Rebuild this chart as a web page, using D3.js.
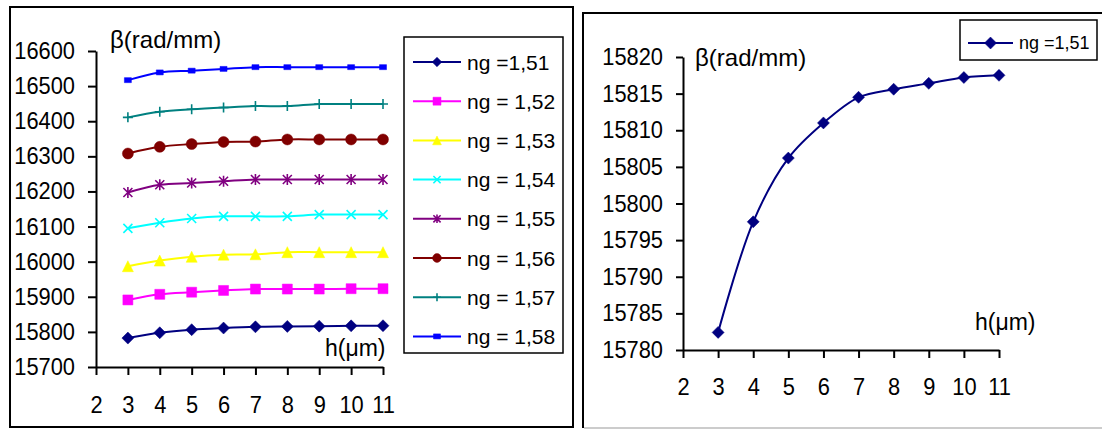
<!DOCTYPE html>
<html>
<head>
<meta charset="utf-8">
<script src="https://cdn.jsdelivr.net/npm/d3@7"></script>
<style>
  body { margin: 0; background: #fff; }
  text { font-family: "Liberation Sans", Arial, sans-serif; fill: #000; }
  .axis path, .axis line { stroke: #000; stroke-width: 2px; }
  .axis text { font-size: 23.5px; }
</style>
</head>
<body>
<div class="chart"></div>
<script>
var hValues = [3, 4, 5, 6, 7, 8, 9, 10, 11];
var xTicks = [2, 3, 4, 5, 6, 7, 8, 9, 10, 11];
var leftYTicks = [15700, 15800, 15900, 16000, 16100, 16200, 16300, 16400, 16500, 16600];
var rightYTicks = [15780, 15785, 15790, 15795, 15800, 15805, 15810, 15815, 15820];

var seriesNames = ["ng =1,51", "ng = 1,52", "ng = 1,53", "ng = 1,54", "ng = 1,55", "ng = 1,56", "ng = 1,57", "ng = 1,58"];
var ng151 = [15782.4, 15797.5, 15806.2, 15811.0, 15814.5, 15815.6, 15816.4, 15817.2, 15817.5];
var ng152 = [15891, 15907, 15913, 15918, 15922, 15922, 15922, 15923, 15923];
var ng153 = [15987, 16003, 16014, 16020, 16021, 16027, 16027, 16027, 16027];
var ng154 = [16095, 16111, 16123, 16129, 16129, 16129, 16134, 16134, 16134];
var ng155 = [16197, 16219, 16224, 16229, 16234, 16234, 16234, 16234, 16234];
var ng156 = [16308, 16327, 16335, 16341, 16342, 16348, 16348, 16348, 16348];
var ng157 = [16411, 16427, 16434, 16439, 16443, 16443, 16449, 16449, 16449];
var ng158 = [16517, 16539, 16544, 16549, 16554, 16554, 16554, 16554, 16554];

var colors = ["#000080", "#ff00ff", "#ffff00", "#00ffff", "#800080", "#800000", "#008080", "#0000ff"];
var markers = ["diamond", "square", "triangle", "x", "star", "circle", "plus", "dash"];

var allSeries = [ng151, ng152, ng153, ng154, ng155, ng156, ng157, ng158].map(function (vals, i) {
  return {
    name: seriesNames[i],
    color: colors[i],
    marker: markers[i],
    values: vals.map(function (v, j) { return {h: hValues[j], beta: v}; })
  };
});

var svg = d3.select(".chart").append("svg")
    .attr("width", 1102)
    .attr("height", 429);

svg.append("rect").attr("width", 1102).attr("height", 429).attr("fill", "#fff");

// panel frames
svg.append("rect")
    .attr("x", 10).attr("y", 7).attr("width", 563).attr("height", 420)
    .attr("fill", "none").attr("stroke", "#000").attr("stroke-width", 2);
svg.append("path")
    .attr("d", "M1102,13H583V428")
    .attr("fill", "none").attr("stroke", "#000").attr("stroke-width", 2);
svg.append("line")
    .attr("x1", 584).attr("x2", 1102).attr("y1", 428).attr("y2", 428)
    .attr("stroke", "#bbb").attr("stroke-width", 1.5);

function markerPath(type, s) {
  switch (type) {
    case "diamond": return "M0," + (-s) + "L" + s + ",0L0," + s + "L" + (-s) + ",0Z";
    case "square": return "M" + (-s) + "," + (-s) + "h" + 2 * s + "v" + 2 * s + "h" + (-2 * s) + "Z";
    case "triangle": return "M0," + (-s) + "L" + s + "," + s + "L" + (-s) + "," + s + "Z";
    case "circle": return d3.symbol(d3.symbolCircle, Math.PI * s * s)();
    case "dash": return "M-3.5,-2.5h7v5h-7Z";
    case "x": return "M" + (-s) + "," + (-s) + "L" + s + "," + s + "M" + (-s) + "," + s + "L" + s + "," + (-s);
    case "star": return "M" + (-s) + "," + (-s) + "L" + s + "," + s + "M" + (-s) + "," + s + "L" + s + "," + (-s) + "M0," + (-s * 1.2) + "V" + (s * 1.2);
    case "plus": return "M" + (-s) + ",0H" + s + "M0," + (-s) + "V" + s;
  }
}
var markerSize = {diamond: 6, square: 5, triangle: 5.5, x: 4.5, star: 4.5, circle: 5.5, plus: 5, dash: 3};
var filled = {diamond: true, square: true, triangle: true, circle: true, dash: true};

function drawMarkers(g, pts, s, x, y, scale) {
  g.selectAll(".pt").data(pts).enter().append("path")
    .attr("class", "pt")
    .attr("transform", function (d) { return "translate(" + x(d.h) + "," + y(d.beta) + ")"; })
    .attr("d", markerPath(s.marker, markerSize[s.marker] * scale))
    .attr("fill", filled[s.marker] ? s.color : "none")
    .attr("stroke", s.color)
    .attr("stroke-width", filled[s.marker] ? 0.5 : 1.6);
}

function legendItem(g, s, lx, ly, len, fontSize, scale) {
  g.append("line").attr("x1", lx).attr("x2", lx + len).attr("y1", ly).attr("y2", ly)
    .attr("stroke", s.color).attr("stroke-width", 2);
  g.append("path")
    .attr("transform", "translate(" + (lx + len / 2) + "," + ly + ")")
    .attr("d", markerPath(s.marker, markerSize[s.marker] * scale))
    .attr("fill", filled[s.marker] ? s.color : "none")
    .attr("stroke", s.color)
    .attr("stroke-width", filled[s.marker] ? 0.5 : 1.6);
  g.append("text").attr("x", lx + len + 6).attr("y", ly).attr("dy", "0.36em")
    .style("font-size", fontSize + "px").text(s.name);
}

// tick labels in the picture are a little narrower than the font
var squeeze = 0.93;
function narrowTicks(g) {
  g.selectAll("text").each(function () {
    var t = d3.select(this);
    var x = +t.attr("x") || 0;
    t.attr("x", x / squeeze).attr("transform", "scale(" + squeeze + ",1)");
  });
}

// ---------- left chart ----------
var x1 = d3.scaleLinear().domain([2, 11]).range([96, 383]);
var y1 = d3.scaleLinear().domain([15700, 16600]).range([367, 51]);

svg.append("g").attr("class", "axis")
    .attr("transform", "translate(0,367)")
    .call(d3.axisBottom(x1).tickValues(xTicks).tickSize(8).tickPadding(21).tickSizeOuter(0))
    .call(narrowTicks);
svg.append("g").attr("class", "axis")
    .attr("transform", "translate(96,0)")
    .call(d3.axisLeft(y1).tickValues(leftYTicks).tickFormat(d3.format("d")).tickSize(8).tickPadding(13).tickSizeOuter(0))
    .call(narrowTicks);

var line1 = d3.line().curve(d3.curveCatmullRom)
    .x(function (d) { return x1(d.h); })
    .y(function (d) { return y1(d.beta); });

allSeries.forEach(function (s) {
  var g = svg.append("g");
  g.append("path").datum(s.values)
    .attr("fill", "none").attr("stroke", s.color).attr("stroke-width", 2)
    .attr("d", line1);
  drawMarkers(g, s.values, s, x1, y1, 1);
});

svg.append("text").attr("x", 110).attr("y", 48).style("font-size", "24px").text("β(rad/mm)");
svg.append("text").attr("x", 325).attr("y", 356).style("font-size", "23px").text("h(μm)");

var leg1 = svg.append("g");
leg1.append("rect").attr("x", 404).attr("y", 37).attr("width", 159).attr("height", 316)
    .attr("fill", "#fff").attr("stroke", "#000").attr("stroke-width", 1.5);
allSeries.forEach(function (s, i) {
  legendItem(leg1, s, 413, 62 + i * 39.2, 48, 21, 0.8);
});

// ---------- right chart ----------
var x2 = d3.scaleLinear().domain([2, 11]).range([683, 999]);
var y2 = d3.scaleLinear().domain([15780, 15820]).range([350, 57]);

svg.append("g").attr("class", "axis")
    .attr("transform", "translate(0,350)")
    .call(d3.axisBottom(x2).tickValues(xTicks).tickSize(8).tickPadding(20).tickSizeOuter(0))
    .call(narrowTicks);
svg.append("g").attr("class", "axis")
    .attr("transform", "translate(683,0)")
    .call(d3.axisLeft(y2).tickValues(rightYTicks).tickFormat(d3.format("d")).tickSize(7).tickPadding(13).tickSizeOuter(0))
    .call(narrowTicks);

var line2 = d3.line().curve(d3.curveCatmullRom)
    .x(function (d) { return x2(d.h); })
    .y(function (d) { return y2(d.beta); });

var g2 = svg.append("g");
g2.append("path").datum(allSeries[0].values)
  .attr("fill", "none").attr("stroke", allSeries[0].color).attr("stroke-width", 2)
  .attr("d", line2);
drawMarkers(g2, allSeries[0].values, allSeries[0], x2, y2, 1);

svg.append("text").attr("x", 695).attr("y", 66).style("font-size", "24px").text("β(rad/mm)");
svg.append("text").attr("x", 975).attr("y", 330).style("font-size", "23px").text("h(μm)");

var leg2 = svg.append("g");
leg2.append("rect").attr("x", 960).attr("y", 20).attr("width", 137).attr("height", 40)
    .attr("fill", "#fff").attr("stroke", "#000").attr("stroke-width", 1.5);
legendItem(leg2, allSeries[0], 968, 43, 45, 18, 1);
</script>
</body>
</html>
